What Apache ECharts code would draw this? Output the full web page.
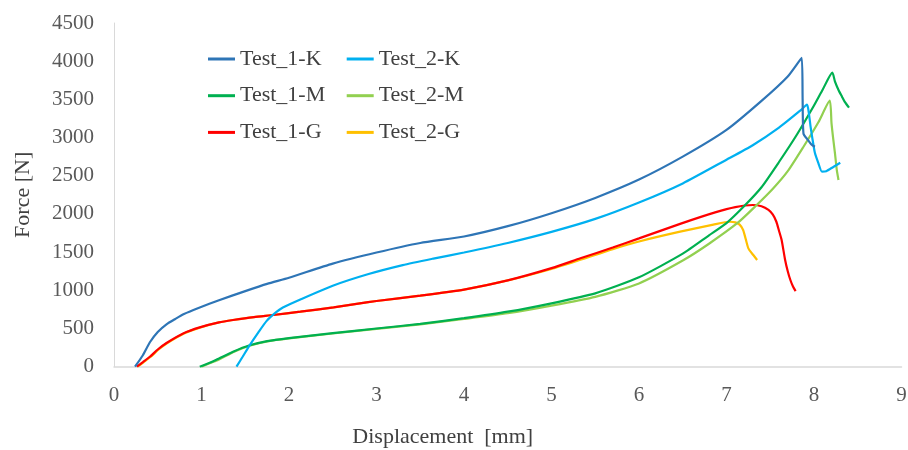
<!DOCTYPE html>
<html>
<head>
<meta charset="utf-8">
<script src="https://cdn.jsdelivr.net/npm/echarts@6/dist/echarts.min.js"></script>
<style>html,body{margin:0;padding:0;background:#fff}#c{width:908px;height:450px}</style>
</head>
<body>
<div id="c"></div>
<script>
const seriesNames = ['Test_1-K','Test_2-K','Test_1-M','Test_2-M','Test_1-G','Test_2-G'];
const xTicks = [0,1,2,3,4,5,6,7,8,9];
const yTicks = [0,500,1000,1500,2000,2500,3000,3500,4000,4500];

const test1K = [[0.24,0],[0.33,150],[0.41,320],[0.50,455],[0.60,555],[0.70,625],[0.80,690],[0.98,775],[1.2,870],[1.5,990],[1.75,1085],[2.0,1165],[2.5,1350],[3.0,1495],[3.5,1620],[4.0,1705],[4.5,1840],[5.0,2010],[5.5,2210],[6.0,2450],[6.5,2750],[7.0,3100],[7.4,3480],[7.7,3800],[7.86,4045],[7.87,3500],[7.88,3050],[7.93,2970],[7.97,2910],[8.01,2880]];
const test2K = [[1.40,0],[1.47,130],[1.55,280],[1.65,450],[1.745,600],[1.85,710],[1.93,775],[2.13,880],[2.5,1060],[2.9,1210],[3.3,1330],[3.65,1415],[4.0,1495],[4.5,1620],[5.0,1765],[5.5,1935],[6.0,2150],[6.5,2400],[7.0,2710],[7.3,2900],[7.6,3130],[7.85,3360],[7.92,3430],[7.94,3330],[7.96,3150],[7.98,3000],[8.01,2800],[8.05,2665],[8.09,2555],[8.14,2560],[8.22,2615],[8.30,2670]];
const test1M = [[0.98,0],[1.08,45],[1.17,90],[1.36,195],[1.55,280],[1.75,335],[2.0,375],[2.5,440],[3.0,500],[3.5,560],[4.0,635],[4.5,720],[5.0,830],[5.5,960],[6.0,1170],[6.5,1480],[6.8,1720],[7.0,1880],[7.2,2100],[7.4,2350],[7.6,2680],[7.8,3030],[8.0,3420],[8.1,3630],[8.21,3850],[8.24,3731],[8.28,3623],[8.32,3535],[8.35,3470],[8.40,3391]];
const test2M = [[1.0,0],[1.1,48],[1.2,95],[1.38,200],[1.57,280],[1.77,335],[2.0,370],[2.5,435],[3.0,495],[3.5,555],[4.0,625],[4.5,700],[5.0,800],[5.5,915],[6.0,1090],[6.5,1390],[6.8,1610],[7.13,1885],[7.33,2100],[7.53,2330],[7.7,2560],[7.88,2880],[8.05,3200],[8.18,3483],[8.20,3190],[8.22,2980],[8.24,2790],[8.26,2580],[8.28,2444]];
const test1G = [[0.26,0],[0.33,60],[0.41,130],[0.50,225],[0.60,310],[0.79,435],[0.98,515],[1.2,580],[1.36,611],[1.6,650],[1.82,677],[2.13,720],[2.51,777],[2.81,830],[3.0,860],[3.5,930],[4.0,1010],[4.5,1130],[5.0,1290],[5.33,1419],[5.7,1560],[6.0,1680],[6.47,1870],[6.87,2020],[7.1,2090],[7.3,2117],[7.4,2100],[7.48,2052],[7.53,1990],[7.57,1898],[7.6,1780],[7.63,1659],[7.67,1397],[7.70,1250],[7.73,1135],[7.76,1050],[7.79,990]];
const test2G = [[0.27,0],[0.34,60],[0.42,130],[0.51,225],[0.61,310],[0.80,435],[0.99,515],[1.2,580],[1.36,611],[1.6,650],[1.82,677],[2.13,720],[2.51,777],[2.81,830],[3.0,860],[3.5,930],[4.0,1010],[4.5,1130],[5.0,1280],[5.33,1400],[5.7,1540],[6.0,1640],[6.47,1768],[6.85,1860],[7.04,1898],[7.1,1890],[7.15,1860],[7.19,1790],[7.22,1670],[7.25,1550],[7.29,1485],[7.35,1397]];

const colors = {'Test_1-K':'#2E75B6','Test_2-K':'#00B0F0','Test_1-M':'#00B050','Test_2-M':'#92D050','Test_1-G':'#FF0000','Test_2-G':'#FFC000'};
const dataMap = {'Test_1-K':test1K,'Test_2-K':test2K,'Test_1-M':test1M,'Test_2-M':test2M,'Test_1-G':test1G,'Test_2-G':test2G};
const drawOrder = ['Test_2-G','Test_1-G','Test_2-M','Test_1-M','Test_2-K','Test_1-K'];

const font = 'Liberation Serif';
const chart = echarts.init(document.getElementById('c'), null, {renderer:'canvas'});
const legendBase = {
  orient:'vertical', top:43, itemWidth:27, itemHeight:3, icon:'rect', itemGap:14.7,
  textStyle:{fontFamily:font, fontSize:22, color:'#404040'}
};
chart.setOption({
  animation:false,
  color: drawOrder.map(n=>colors[n]),
  grid:{left:114, right:6.5, top:23, bottom:83.3, containLabel:false, outerBoundsMode:'none'},
  legend:[
    Object.assign({}, legendBase, {left:203, data:[seriesNames[0],seriesNames[2],seriesNames[4]]}),
    Object.assign({}, legendBase, {left:341.7, data:[seriesNames[1],seriesNames[3],seriesNames[5]]})
  ],
  xAxis:{
    type:'value', min:xTicks[0], max:xTicks[xTicks.length-1], interval:1,
    name:'Displacement  [mm]', nameLocation:'middle', nameGap:60,
    nameTextStyle:{fontFamily:font, fontSize:22, color:'#404040', padding:[0,130,0,0]},
    axisLine:{show:true, lineStyle:{color:'#D9D9D9', width:1.5}},
    axisTick:{show:false}, splitLine:{show:false},
    axisLabel:{fontFamily:font, fontSize:21, color:'#595959', margin:18, formatter:v=>String(v)}
  },
  yAxis:{
    type:'value', min:yTicks[0], max:yTicks[yTicks.length-1], interval:500,
    name:'Force [N]', nameLocation:'middle', nameGap:80,
    nameTextStyle:{fontFamily:font, fontSize:22, color:'#404040'},
    axisLine:{show:true, lineStyle:{color:'#D9D9D9', width:1}},
    axisTick:{show:false}, splitLine:{show:false},
    axisLabel:{fontFamily:font, fontSize:21, color:'#595959', margin:20, formatter:v=>String(v)}
  },
  series: drawOrder.map(n=>({
    name:n, type:'line', data:dataMap[n], showSymbol:false, symbol:'none',
    smooth:0.2, lineStyle:{width:2.2, color:colors[n]}, itemStyle:{color:colors[n]}
  }))
});
</script>
</body>
</html>
